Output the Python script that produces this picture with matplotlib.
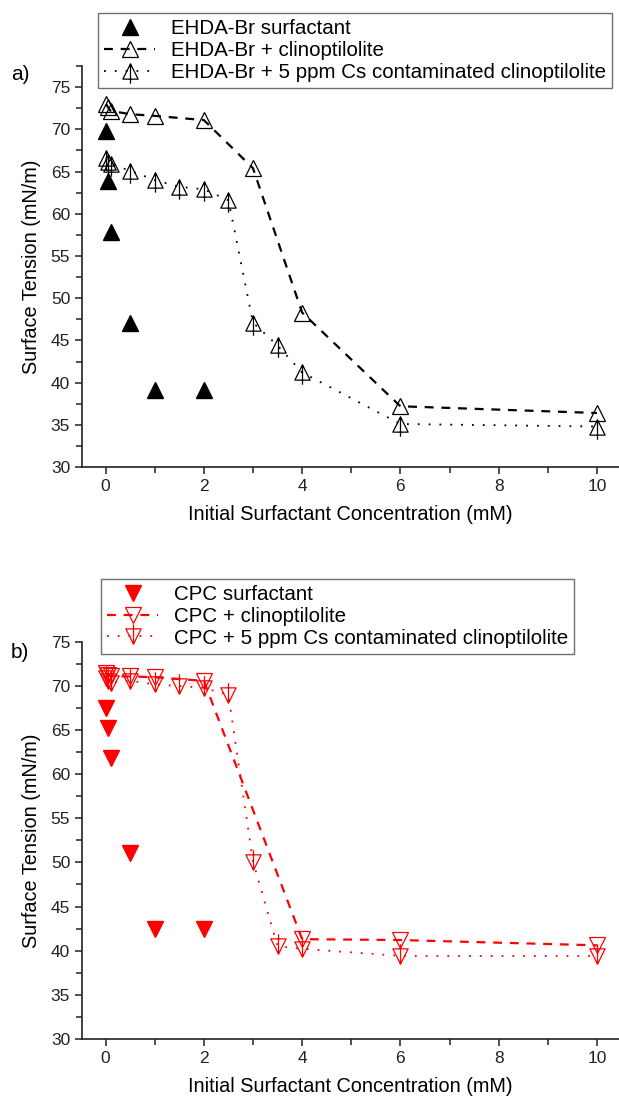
"""Surface tension vs. initial surfactant concentration, two stacked panels."""

import matplotlib

matplotlib.use("Agg")
import matplotlib.pyplot as plt
from matplotlib.path import Path
from matplotlib.ticker import MultipleLocator

plt.rcParams["font.family"] = ["Liberation Sans", "DejaVu Sans"]

# panel a) EHDA-Br
EHDA_X = [0.01, 0.05, 0.1, 0.5, 1, 2]
EHDA_Y = [69.8, 63.9, 57.9, 47.1, 39.1, 39.1]
EHDA_CLINO_X = [0.01, 0.05, 0.1, 0.5, 1, 2, 3, 4, 6, 10]
EHDA_CLINO_Y = [73.0, 72.6, 72.2, 71.8, 71.6, 71.1, 65.4, 48.3, 37.2, 36.4]
EHDA_CS_X = [0.01, 0.05, 0.1, 0.5, 1, 1.5, 2, 2.5, 3, 3.5, 4, 6, 10]
EHDA_CS_Y = [66.6, 66.1, 65.9, 65.1, 64.0, 63.2, 62.9, 61.6, 47.1, 44.4, 41.2, 35.1, 34.8]

# panel b) CPC
CPC_X = [0.01, 0.05, 0.1, 0.5, 1, 2]
CPC_Y = [67.5, 65.3, 61.8, 51.1, 42.5, 42.5]
CPC_CLINO_X = [0.01, 0.05, 0.1, 0.5, 1, 2, 4, 6, 10]
CPC_CLINO_Y = [71.5, 71.3, 71.1, 71.1, 71.0, 70.6, 41.3, 41.2, 40.6]
CPC_CS_X = [0.01, 0.05, 0.1, 0.5, 1, 1.5, 2, 2.5, 3, 3.5, 4, 6, 10]
CPC_CS_Y = [70.9, 70.6, 70.4, 70.6, 70.2, 70.0, 69.8, 69.0, 50.1, 40.5, 40.2, 39.4, 39.4]

LABELS_A = [
    "EHDA-Br surfactant",
    "EHDA-Br + clinoptilolite",
    "EHDA-Br + 5 ppm Cs contaminated clinoptilolite",
]
LABELS_B = [
    "CPC surfactant",
    "CPC + clinoptilolite",
    "CPC + 5 ppm Cs contaminated clinoptilolite",
]

XLABEL = "Initial Surfactant Concentration (mM)"
YLABEL = "Surface Tension (mN/m)"

_codes = [Path.MOVETO, Path.LINETO, Path.LINETO, Path.CLOSEPOLY, Path.MOVETO, Path.LINETO]
UP_CROSS = Path([(0, 1), (-1, -1), (1, -1), (0, 1), (0, 1), (0, -1.6)], _codes)
DOWN_CROSS = Path([(0, -1), (-1, 1), (1, 1), (0, -1), (0, -1), (0, 1.6)], _codes)


def _panel(ax, colour, series, labels, cross, solid, ylim, letter, letter_y, legend_xy):
    (sx, sy), (cx, cy), (zx, zy) = series
    ax.plot(sx, sy, linestyle="none", marker=solid, ms=11, color=colour,
            label=labels[0])
    ax.plot(cx, cy, linestyle=(0, (4, 3.5)), lw=1.6, color=colour,
            marker="^" if solid == "^" else "v", ms=11, mfc="none", mew=0.9,
            label=labels[1])
    ax.plot(zx, zy, linestyle=(0, (1, 5)), lw=1.3, color=colour,
            marker=cross, ms=17.6, mfc="none", mew=0.9, label=labels[2])

    ax.set_xlim(-0.48, 10.45)
    ax.set_ylim(*ylim)
    ax.xaxis.set_major_locator(MultipleLocator(2))
    ax.xaxis.set_minor_locator(MultipleLocator(1))
    ax.yaxis.set_major_locator(MultipleLocator(5))
    ax.yaxis.set_minor_locator(MultipleLocator(2.5))
    ax.tick_params(which="both", direction="out", width=1.1, labelsize=12.5,
                   colors="#222222")
    ax.tick_params(which="major", length=5)
    ax.tick_params(which="minor", length=4)
    for side in ("top", "right"):
        ax.spines[side].set_visible(False)
    for side in ("left", "bottom"):
        ax.spines[side].set_linewidth(1.2)
        ax.spines[side].set_color("#222222")
    ax.set_xlabel(XLABEL, fontsize=14.3, labelpad=8)
    ax.set_ylabel(YLABEL, fontsize=14.3, labelpad=7)

    fig = ax.figure
    fig.text(0.018, letter_y, letter, fontsize=15, va="center")
    leg = ax.legend(loc="upper left", bbox_to_anchor=legend_xy,
                    bbox_transform=fig.transFigure, fontsize=14.8,
                    frameon=True, fancybox=False, framealpha=1,
                    edgecolor="#707070", handlelength=2.5, handletextpad=0.75,
                    labelspacing=0.13, borderpad=0.3, borderaxespad=0)
    leg.get_frame().set_linewidth(1.0)


fig = plt.figure(figsize=(6.19, 11.01), dpi=100)
ax_a = fig.add_axes([0.1325, 0.5758, 0.8675, 0.3642])
ax_b = fig.add_axes([0.1325, 0.0565, 0.8675, 0.3604])

_panel(ax_a, "black",
       [(EHDA_X, EHDA_Y), (EHDA_CLINO_X, EHDA_CLINO_Y), (EHDA_CS_X, EHDA_CS_Y)],
       LABELS_A, UP_CROSS, "^", (30, 77.5), "a)", 0.932, (0.158, 0.988))
_panel(ax_b, "red",
       [(CPC_X, CPC_Y), (CPC_CLINO_X, CPC_CLINO_Y), (CPC_CS_X, CPC_CS_Y)],
       LABELS_B, DOWN_CROSS, "v", (30, 75), "b)", 0.407, (0.163, 0.474))

fig.savefig("out.png", dpi=100)
